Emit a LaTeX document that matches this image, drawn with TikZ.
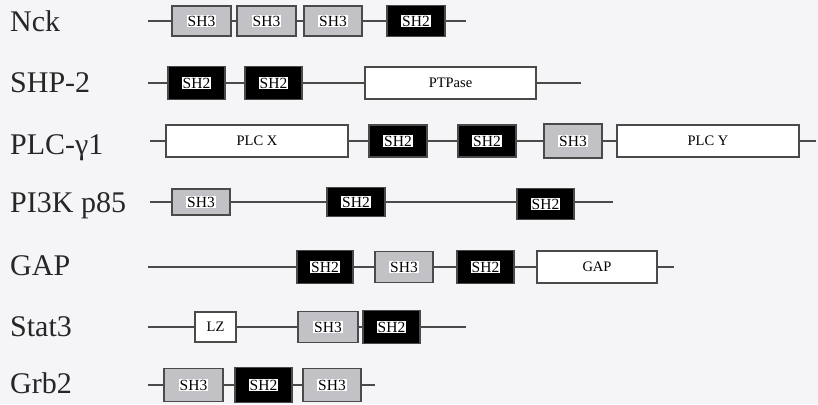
\documentclass[tikz,border=0pt]{standalone}
\usepackage{fontspec}
\setmainfont{Liberation Serif}
\definecolor{bgc}{HTML}{F5F5F8}
\definecolor{boxc}{HTML}{4A4A4A}
\definecolor{shtc}{HTML}{C2C2C6}
\newcommand\hlbox[1]{{\fontsize{15.5}{16}\selectfont\setlength\fboxsep{0.9pt}\colorbox{white}{#1}}}
\begin{document}
\begin{tikzpicture}[x=1pt,y=-1pt,
  dom/.style={draw=boxc, line width=1.3pt, inner sep=0pt, minimum height=30pt,
    font=\fontsize{14.5}{15}\selectfont, text=black},
  shthree/.style={dom, fill=shtc, minimum width=58pt},
  shtwo/.style={dom, fill=black, minimum width=57pt},
  plainbox/.style={dom, fill=white},
  conn/.style={draw=boxc, line width=1.1pt},
  rowlab/.style={anchor=base west, inner sep=0pt, font=\fontsize{30}{32}\selectfont, text=black!85}]
\useasboundingbox[fill=bgc] (0,0) rectangle (818,404);

% labels
\node[rowlab] (lnck) at (10,32) {Nck};
\node[rowlab] (lshp) at (10,92) {SHP-2};
\node[rowlab] (lplc) at (10,154) {PLC-γ1};
\node[rowlab] (lpi) at (10,212) {PI3K p85};
\node[rowlab] (lgap) at (10,275) {GAP};
\node[rowlab] (lstat) at (10,336) {Stat3};
\node[rowlab] (lgrb) at (10,393) {Grb2};

% Nck
\coordinate (n0) at (148,21);
\coordinate (n9) at (466,21);
\node[shthree, minimum width=59pt] (n1) at (201.5,21) {\hlbox{SH3}};
\node[shthree, minimum width=59pt] (n2) at (266.5,21) {\hlbox{SH3}};
\node[shthree] (n3) at (333,21) {\hlbox{SH3}};
\node[shtwo, minimum width=58pt, minimum height=31pt] (n4) at (416,21) {\hlbox{SH2}};
\draw[conn] (n0) -- (n1.west) (n1.east) -- (n2.west) (n2.east) -- (n3.west)
  (n3.east) -- (n4.west) (n4.east) -- (n9);

% SHP-2
\coordinate (s0) at (148,83);
\coordinate (s9) at (581,83);
\node[shtwo, minimum height=33pt] (s1) at (196.5,83) {\hlbox{SH2}};
\node[shtwo, minimum height=33pt] (s2) at (273.5,83) {\hlbox{SH2}};
\node[plainbox, minimum width=171pt, minimum height=32pt] (s3) at (450.5,83) {PTPase};
\draw[conn] (s0) -- (s1.west) (s1.east) -- (s2.west) (s2.east) -- (s3.west) (s3.east) -- (s9);

% PLC-gamma1
\coordinate (p0) at (150,141);
\coordinate (p9) at (816,141);
\node[plainbox, minimum width=182pt, minimum height=32pt] (p1) at (257,141) {PLC X};
\node[shtwo, minimum width=58pt, minimum height=32pt] (p2) at (398,141) {\hlbox{SH2}};
\node[shtwo, minimum width=58pt, minimum height=32pt] (p3) at (487,141) {\hlbox{SH2}};
\node[shthree, minimum height=34pt] (p4) at (573,141) {\hlbox{SH3}};
\node[plainbox, minimum width=182pt, minimum height=32pt] (p5) at (708,141) {PLC Y};
\draw[conn] (p0) -- (p1.west) (p1.east) -- (p2.west) (p2.east) -- (p3.west)
  (p3.east) -- (p4.west) (p4.east) -- (p5.west) (p5.east) -- (p9);

% PI3K p85
\coordinate (q0) at (150,202);
\coordinate (q9) at (613,202);
\node[shthree, minimum height=26pt] (q1) at (201,202) {\hlbox{SH3}};
\node[shtwo, minimum width=58pt, minimum height=29pt] (q2) at (356,202) {\hlbox{SH2}};
\node[shtwo, minimum height=31pt] (q3) at (545.5,204) {\hlbox{SH2}};
\draw[conn] (q0) -- (q1.west) (q1.east) -- (q2.west) (q2.east) -- (q3.west |- q2.east) (q3.east |- q0) -- (q9);

% GAP
\coordinate (g0) at (148,267);
\coordinate (g9) at (674,267);
\node[shtwo, minimum width=56pt, minimum height=33pt] (g1) at (325,267) {\hlbox{SH2}};
\node[shthree, minimum height=31pt] (g2) at (404,267) {\hlbox{SH3}};
\node[shtwo, minimum height=33pt] (g3) at (485.5,267) {\hlbox{SH2}};
\node[plainbox, minimum width=120pt, minimum height=32pt] (g4) at (597,267) {GAP};
\draw[conn] (g0) -- (g1.west) (g1.east) -- (g2.west) (g2.east) -- (g3.west)
  (g3.east) -- (g4.west) (g4.east) -- (g9);

% Stat3
\coordinate (t0) at (148,327);
\coordinate (t9) at (466,327);
\node[plainbox, minimum width=41pt, minimum height=30pt] (t1) at (215.5,327) {LZ};
\node[shthree, minimum width=60pt, minimum height=31pt] (t2) at (328,327) {\hlbox{SH3}};
\node[shtwo, minimum height=33pt] (t3) at (391.5,327) {\hlbox{SH2}};
\draw[conn] (t0) -- (t1.west) (t1.east) -- (t2.west) (t2.east) -- (t3.west) (t3.east) -- (t9);

% Grb2
\coordinate (r0) at (148,385);
\coordinate (r9) at (375,385);
\node[shthree, minimum width=59pt, minimum height=33pt] (r1) at (193.5,385) {\hlbox{SH3}};
\node[shtwo, minimum height=35pt] (r2) at (263.5,385) {\hlbox{SH2}};
\node[shthree, minimum height=33pt] (r3) at (332,385) {\hlbox{SH3}};
\draw[conn] (r0) -- (r1.west) (r1.east) -- (r2.west) (r2.east) -- (r3.west) (r3.east) -- (r9);
\end{tikzpicture}
\end{document}
